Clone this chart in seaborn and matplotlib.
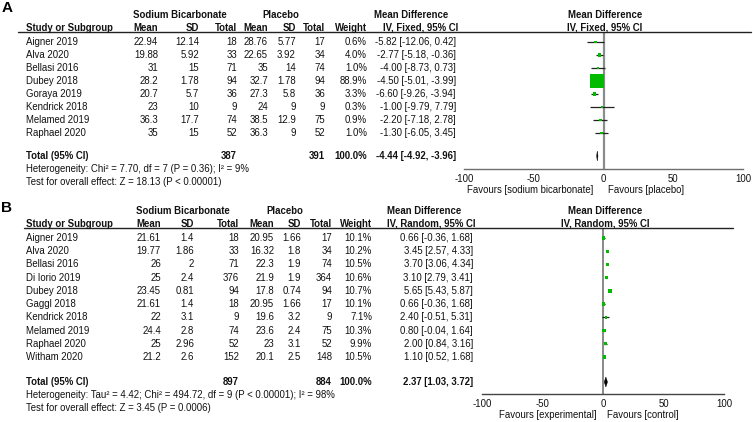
import numpy as np
import pandas as pd
import matplotlib
matplotlib.use("Agg")
import matplotlib.pyplot as plt
from matplotlib import transforms
import seaborn as sns

# ---------------- data: panel A ----------------
a_names = ["Aigner 2019", "Alva 2020", "Bellasi 2016", "Dubey 2018", "Goraya 2019",
           "Kendrick 2018", "Melamed 2019", "Raphael 2020"]
a_sb_mean = [22.94, 19.88, 31, 28.2, 20.7, 23, 36.3, 35]
a_sb_sd = [12.14, 5.92, 15, 1.78, 5.7, 10, 17.7, 15]
a_sb_n = [18, 33, 71, 94, 36, 9, 74, 52]
a_pl_mean = [28.76, 22.65, 35, 32.7, 27.3, 24, 38.5, 36.3]
a_pl_sd = [5.77, 3.92, 14, 1.78, 5.8, 9, 12.9, 9]
a_pl_n = [17, 34, 74, 94, 36, 9, 75, 52]
a_weight = [0.6, 4.0, 1.0, 88.9, 3.3, 0.3, 0.9, 1.0]
a_md = [-5.82, -2.77, -4.00, -4.50, -6.60, -1.00, -2.20, -1.30]
a_lo = [-12.06, -5.18, -8.73, -5.01, -9.26, -9.79, -7.18, -6.05]
a_hi = [0.42, -0.36, 0.73, -3.99, -3.94, 7.79, 2.78, 3.45]
a_total = dict(n1=387, n2=391, md=-4.44, lo=-4.92, hi=-3.96)
a_het = "Heterogeneity: Chi\u00b2 = 7.70, df = 7 (P = 0.36); I\u00b2 = 9%"
a_test = "Test for overall effect: Z = 18.13 (P < 0.00001)"

# ---------------- data: panel B ----------------
b_names = ["Aigner 2019", "Alva 2020", "Bellasi 2016", "Di Iorio 2019", "Dubey 2018",
           "Gaggl 2018", "Kendrick 2018", "Melamed 2019", "Raphael 2020", "Witham 2020"]
b_sb_mean = [21.61, 19.77, 26, 25, 23.45, 21.61, 22, 24.4, 25, 21.2]
b_sb_sd = [1.4, 1.86, 2, 2.4, 0.81, 1.4, 3.1, 2.8, 2.96, 2.6]
b_sb_n = [18, 33, 71, 376, 94, 18, 9, 74, 52, 152]
b_pl_mean = [20.95, 16.32, 22.3, 21.9, 17.8, 20.95, 19.6, 23.6, 23, 20.1]
b_pl_sd = [1.66, 1.8, 1.9, 1.9, 0.74, 1.66, 3.2, 2.4, 3.1, 2.5]
b_pl_n = [17, 34, 74, 364, 94, 17, 9, 75, 52, 148]
b_weight = [10.1, 10.2, 10.5, 10.6, 10.7, 10.1, 7.1, 10.3, 9.9, 10.5]
b_md = [0.66, 3.45, 3.70, 3.10, 5.65, 0.66, 2.40, 0.80, 2.00, 1.10]
b_lo = [-0.36, 2.57, 3.06, 2.79, 5.43, -0.36, -0.51, -0.04, 0.84, 0.52]
b_hi = [1.68, 4.33, 4.34, 3.41, 5.87, 1.68, 5.31, 1.64, 3.16, 1.68]
b_total = dict(n1=897, n2=884, md=2.37, lo=1.03, hi=3.72)
b_het = "Heterogeneity: Tau\u00b2 = 4.42; Chi\u00b2 = 494.72, df = 9 (P < 0.00001); I\u00b2 = 98%"
b_test = "Test for overall effect: Z = 3.45 (P = 0.0006)"

xticks = [-100, -50, 0, 50, 100]

# ---------------- style ----------------
sns.set_theme(style="white")
plt.rcParams["font.family"] = ["Liberation Sans", "DejaVu Sans"]
plt.rcParams["axes.unicode_minus"] = False

W, H = 753, 422
FS = 6.9
GREEN = "#00bb00"
fig = plt.figure(figsize=(W / 100, H / 100), dpi=100)
fig.patch.set_facecolor("white")


def fmt(v):
    return f"{v:g}"


def panel(letter, names, sbm, sbs, sbn, plm, pls, pln, wt, md, lo, hi, tot,
          het, test, method, fav_l, fav_r, L):
    yt, yb, y0, dy = L["yt"], L["yb"], L["y0"], L["dy"]
    x0, x1 = L["xm"], L["xp"]
    ax = fig.add_axes([x0 / W, 1 - yb / H, (x1 - x0) / W, (yb - yt) / H])
    ax.patch.set_alpha(0)

    def r(ypx):
        return (ypx - y0) / dy

    rows = np.arange(len(names))
    df = pd.DataFrame({"row": rows, "md": md, "lo": lo, "hi": hi, "w": wt})
    ax.axvline(0, color=L["zc"], lw=L["zw"], zorder=1)
    ax.hlines(df["row"], df["lo"], df["hi"], color="#222222", lw=0.9, zorder=2)
    sns.scatterplot(data=df, x="md", y="row", marker="s",
                    s=L["s0"] + L["sk"] * df["w"].to_numpy(),
                    color=GREEN, linewidth=0, legend=False, ax=ax, zorder=3)
    # pooled diamond
    tr = r(L["ytot"])
    hh = 5.0 / dy
    ax.fill([tot["lo"], tot["md"], tot["hi"], tot["md"]],
            [tr, tr - hh, tr, tr + hh], color="black", lw=0.3, zorder=4)

    ax.set_xlim(-100, 100)
    ax.set_ylim(r(yb), r(yt))
    ax.set_xlabel("")
    ax.set_ylabel("")
    ax.set_yticks([])
    ax.set_xticks(xticks)
    ax.set_xticklabels([str(t) for t in xticks])
    for s in ["top", "left", "right"]:
        ax.spines[s].set_visible(False)
    ax.spines["bottom"].set_color(L["ac"])
    ax.spines["bottom"].set_linewidth(1.0)
    ax.tick_params(axis="x", direction="inout", length=6, width=1.0,
                   color=L["ac"], labelsize=FS, pad=0.3, labelcolor="#111111")

    T = transforms.blended_transform_factory(fig.transFigure, ax.transData)

    def t(xpx, row, s, ha="right", bold=False, size=FS):
        ax.text(xpx / W, row, s, transform=T, ha=ha, va="center",
                fontsize=size, fontweight="bold" if bold else "normal",
                color="#111111", clip_on=False)

    # headers
    h1, h2 = r(L["yh1"]), r(L["yh2"])
    C = L["cols"]
    t(C["sbh"], h1, "Sodium Bicarbonate", "center", True)
    t(C["plh"], h1, "Placebo", "center", True)
    t(C["mdh"], h1, "Mean Difference", "center", True)
    t(C["fph"], h1, "Mean Difference", "center", True)
    t(C["name"], h2, "Study or Subgroup", "left", True)
    t(C["m1"], h2, "Mean", bold=True)
    t(C["s1"], h2, "SD", bold=True)
    t(C["n1"], h2, "Total", bold=True)
    t(C["m2"], h2, "Mean", bold=True)
    t(C["s2"], h2, "SD", bold=True)
    t(C["n2"], h2, "Total", bold=True)
    t(C["w"], h2, "Weight", bold=True)
    t(C["mdh2"], h2, f"IV, {method}, 95% CI", "center", True)
    t(C["fph"], h2, f"IV, {method}, 95% CI", "center", True)
    ax.plot([L["ul0"] / W, L["ul1"] / W], [r(yt), r(yt)], transform=T,
            color="#222222", lw=1.0, clip_on=False)

    for i in rows:
        t(C["name"], i, names[i], "left")
        t(C["m1"], i, fmt(sbm[i]))
        t(C["s1"], i, fmt(sbs[i]))
        t(C["n1"], i, str(sbn[i]))
        t(C["m2"], i, fmt(plm[i]))
        t(C["s2"], i, fmt(pls[i]))
        t(C["n2"], i, str(pln[i]))
        t(C["w"], i, f"{wt[i]:.1f}%")
        t(C["md"], i, f"{md[i]:.2f} [{lo[i]:.2f}, {hi[i]:.2f}]")

    t(C["name"], tr, "Total (95% CI)", "left", True)
    t(C["n1"], tr, str(tot["n1"]), bold=True)
    t(C["n2"], tr, str(tot["n2"]), bold=True)
    t(C["w"], tr, "100.0%", bold=True)
    t(C["md"], tr, f"{tot['md']:.2f} [{tot['lo']:.2f}, {tot['hi']:.2f}]", bold=True)
    t(C["name"], r(L["yhet"]), het, "left")
    t(C["name"], r(L["ytest"]), test, "left")

    # favours labels
    fr = r(L["yfav"])
    ax.text(L["favl"] / W, fr, fav_l, transform=T, ha="right", va="center",
            fontsize=FS, color="#111111", clip_on=False)
    ax.text(L["favr"] / W, fr, fav_r, transform=T, ha="left", va="center",
            fontsize=FS, color="#111111", clip_on=False)

    # panel letter
    ax.text(L["letx"] / W, r(L["lety"]), letter, transform=T, ha="left",
            va="center", fontsize=11, fontweight="bold", color="black",
            clip_on=False)
    return ax


LA = dict(yt=32, yb=169, y0=42, dy=13.0, xm=464, xp=743, ytot=156,
          yh1=15.5, yh2=28, yhet=168.5, ytest=181.5, yfav=189.5,
          favl=593, favr=608, ul0=18, ul1=751, letx=2, lety=8,
          zc="#8c8c8c", zw=1.6, ac="#6e6e6e", s0=2.5, sk=1.12,
          cols=dict(name=26, m1=158, s1=199, n1=237, m2=268, s2=296, n2=325,
                    w=367, md=456, sbh=180, plh=281, mdh=411, mdh2=421, fph=605))

LB = dict(yt=228, yb=394, y0=238, dy=13.22, xm=482, xp=724, ytot=382,
          yh1=211, yh2=224, yhet=395, ytest=408, yfav=415,
          favl=597, favr=607, ul0=24, ul1=733, letx=1, lety=208.5,
          zc="#6a6a6a", zw=1.1, ac="#444444", s0=0.4, sk=0.5,
          cols=dict(name=26, m1=161, s1=194, n1=239, m2=274, s2=301, n2=332,
                    w=372, md=473, sbh=183, plh=285, mdh=424, mdh2=431, fph=605))

panel("A", a_names, a_sb_mean, a_sb_sd, a_sb_n, a_pl_mean, a_pl_sd, a_pl_n,
      a_weight, a_md, a_lo, a_hi, a_total, a_het, a_test, "Fixed",
      "Favours [sodium bicarbonate]", "Favours [placebo]", LA)
panel("B", b_names, b_sb_mean, b_sb_sd, b_sb_n, b_pl_mean, b_pl_sd, b_pl_n,
      b_weight, b_md, b_lo, b_hi, b_total, b_het, b_test, "Random",
      "Favours [experimental]", "Favours [control]", LB)

fig.savefig("out.png", dpi=100, facecolor="white")
